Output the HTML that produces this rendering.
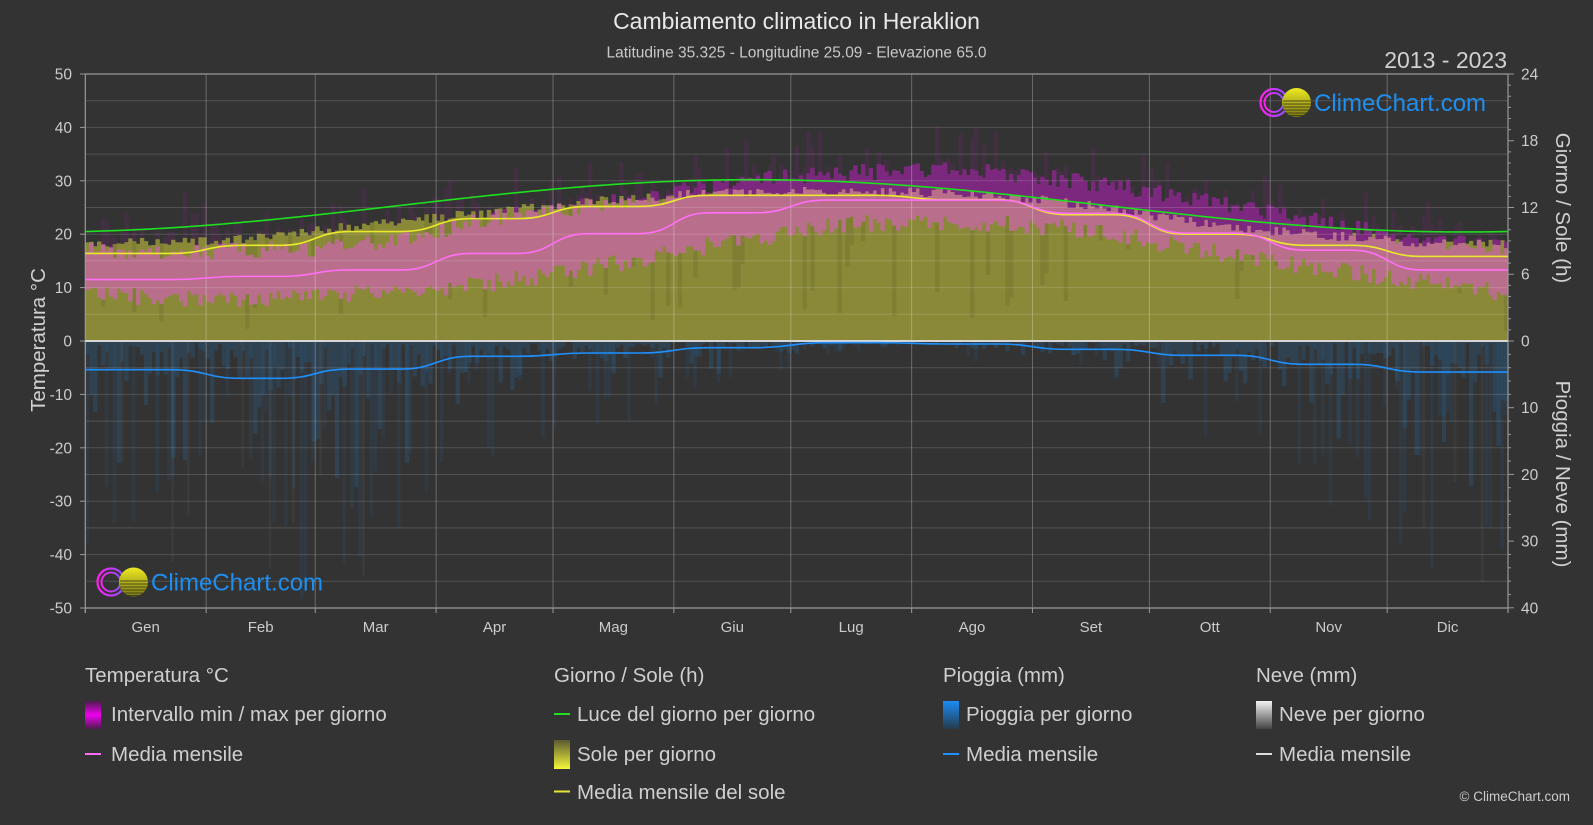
<!DOCTYPE html>
<html><head><meta charset="utf-8">
<style>
html,body{margin:0;padding:0;background:#333333;width:1593px;height:825px;overflow:hidden;}
svg{display:block;font-family:"Liberation Sans",Arial,sans-serif;}
</style></head>
<body>
<svg id="s" width="1593" height="825" viewBox="0 0 1593 825" xmlns="http://www.w3.org/2000/svg">
<defs>
  <linearGradient id="gTemp" x1="0" y1="0" x2="0" y2="1">
    <stop offset="0" stop-color="#4a1c4a"/><stop offset="0.5" stop-color="#f000f0"/><stop offset="1" stop-color="#4a1c4a"/>
  </linearGradient>
  <linearGradient id="gSun" x1="0" y1="0" x2="0" y2="1">
    <stop offset="0" stop-color="#5a5a32"/><stop offset="1" stop-color="#f6f63a"/>
  </linearGradient>
  <linearGradient id="gRain" x1="0" y1="0" x2="0" y2="1">
    <stop offset="0" stop-color="#1a8cf5"/><stop offset="1" stop-color="#263a4c"/>
  </linearGradient>
  <linearGradient id="gSnow" x1="0" y1="0" x2="0" y2="1">
    <stop offset="0" stop-color="#f2f2f2"/><stop offset="1" stop-color="#444444"/>
  </linearGradient>
  <linearGradient id="gRing" x1="0" y1="0" x2="1" y2="0">
    <stop offset="0" stop-color="#ff20f0"/><stop offset="1" stop-color="#8a50ff"/>
  </linearGradient>
  <linearGradient id="gBall" x1="0" y1="0" x2="0" y2="1">
    <stop offset="0" stop-color="#eeea22"/><stop offset="1" stop-color="#7c7a14"/>
  </linearGradient>
</defs>
<rect width="1593" height="825" fill="#333333"/>
<g id="data"></g>
<g id="grid"></g>
<g id="lines"></g>

<!-- logos -->
<g id="logo1">
  <circle cx="1274" cy="102.5" r="13.5" fill="none" stroke="url(#gRing)" stroke-width="2.2"/>
  <circle cx="1274" cy="102.5" r="9.5" fill="none" stroke="url(#gRing)" stroke-width="2"/>
  <circle cx="1296.5" cy="102.5" r="14.5" fill="url(#gBall)"/>
  <g stroke="#3a3a1a" stroke-width="1" opacity="0.85">
    <line x1="1283" y1="104" x2="1311" y2="104"/><line x1="1283" y1="107" x2="1311" y2="107"/>
    <line x1="1284" y1="110" x2="1310" y2="110"/><line x1="1285" y1="113" x2="1308" y2="113"/>
    <line x1="1287" y1="115.5" x2="1306" y2="115.5"/><line x1="1283" y1="101" x2="1311" y2="101"/>
  </g>
  <text x="1314" y="111" font-size="24" fill="#1e8ff0">ClimeChart.com</text>
</g>
<g id="logo2">
  <circle cx="111" cy="582" r="13.5" fill="none" stroke="url(#gRing)" stroke-width="2.2"/>
  <circle cx="111" cy="582" r="9.5" fill="none" stroke="url(#gRing)" stroke-width="2"/>
  <circle cx="133.5" cy="582" r="14.5" fill="url(#gBall)"/>
  <g stroke="#3a3a1a" stroke-width="1" opacity="0.85">
    <line x1="120" y1="581" x2="148" y2="581"/><line x1="120" y1="584" x2="148" y2="584"/>
    <line x1="120" y1="587" x2="148" y2="587"/><line x1="121" y1="590" x2="147" y2="590"/>
    <line x1="122" y1="593" x2="145" y2="593"/><line x1="124" y1="595.5" x2="143" y2="595.5"/>
  </g>
  <text x="151" y="590.6" font-size="24" fill="#1e8ff0">ClimeChart.com</text>
</g>

<!-- titles -->
<text x="796.5" y="29" font-size="23" fill="#e8e8e8" text-anchor="middle">Cambiamento climatico in Heraklion</text>
<text x="796.5" y="57.3" font-size="15.5" fill="#c8c8c8" text-anchor="middle">Latitudine 35.325 - Longitudine 25.09 - Elevazione 65.0</text>
<text x="1507" y="68" font-size="23" fill="#d0d0d0" text-anchor="end">2013 - 2023</text>

<!-- axis titles -->
<text transform="translate(45,340) rotate(-90)" font-size="20.5" fill="#d0d0d0" text-anchor="middle">Temperatura °C</text>
<text transform="translate(1556,208) rotate(90)" font-size="20.5" fill="#d0d0d0" text-anchor="middle">Giorno / Sole (h)</text>
<text transform="translate(1556,474) rotate(90)" font-size="20.5" fill="#d0d0d0" text-anchor="middle">Pioggia / Neve (mm)</text>

<!-- left tick labels -->
<g font-size="15.5" fill="#cccccc" text-anchor="end">
  <text x="72" y="79.5">50</text>
  <text x="72" y="132.9">40</text>
  <text x="72" y="186.3">30</text>
  <text x="72" y="239.7">20</text>
  <text x="72" y="293.1">10</text>
  <text x="72" y="346.5">0</text>
  <text x="72" y="399.9">-10</text>
  <text x="72" y="453.3">-20</text>
  <text x="72" y="506.7">-30</text>
  <text x="72" y="560.1">-40</text>
  <text x="72" y="613.5">-50</text>
</g>
<!-- right tick labels -->
<g font-size="15.5" fill="#cccccc" text-anchor="start">
  <text x="1521" y="79.5">24</text>
  <text x="1521" y="146.2">18</text>
  <text x="1521" y="213">12</text>
  <text x="1521" y="279.7">6</text>
  <text x="1521" y="346.5">0</text>
  <text x="1521" y="413.2">10</text>
  <text x="1521" y="479.9">20</text>
  <text x="1521" y="546.6">30</text>
  <text x="1521" y="613.3">40</text>
</g>
<!-- month labels -->
<g font-size="15" fill="#cccccc" text-anchor="middle">
  <text x="145.7" y="632">Gen</text>
  <text x="260.7" y="632">Feb</text>
  <text x="375.7" y="632">Mar</text>
  <text x="494.6" y="632">Apr</text>
  <text x="613.4" y="632">Mag</text>
  <text x="732.3" y="632">Giu</text>
  <text x="851.2" y="632">Lug</text>
  <text x="972" y="632">Ago</text>
  <text x="1090.9" y="632">Set</text>
  <text x="1209.8" y="632">Ott</text>
  <text x="1328.7" y="632">Nov</text>
  <text x="1447.6" y="632">Dic</text>
</g>

<!-- legend -->
<g font-size="20.5" fill="#cfcfcf">
  <text x="85" y="682">Temperatura °C</text>
  <rect x="85" y="701" width="16" height="28" fill="url(#gTemp)"/>
  <text x="111" y="721">Intervallo min / max per giorno</text>
  <line x1="85" y1="754" x2="101" y2="754" stroke="#ff6ef5" stroke-width="2"/>
  <text x="111" y="761">Media mensile</text>

  <text x="554" y="682">Giorno / Sole (h)</text>
  <line x1="554" y1="714" x2="570" y2="714" stroke="#22dd22" stroke-width="2"/>
  <text x="577" y="721">Luce del giorno per giorno</text>
  <rect x="554" y="740" width="16" height="29" fill="url(#gSun)"/>
  <text x="577" y="761">Sole per giorno</text>
  <line x1="554" y1="791.5" x2="570" y2="791.5" stroke="#e6e630" stroke-width="2"/>
  <text x="577" y="799">Media mensile del sole</text>

  <text x="943" y="682">Pioggia (mm)</text>
  <rect x="943" y="701" width="16" height="28" fill="url(#gRain)"/>
  <text x="966" y="721">Pioggia per giorno</text>
  <line x1="943" y1="754" x2="959" y2="754" stroke="#1e90ff" stroke-width="2"/>
  <text x="966" y="761">Media mensile</text>

  <text x="1256" y="682">Neve (mm)</text>
  <rect x="1256" y="701" width="16" height="28" fill="url(#gSnow)"/>
  <text x="1279" y="721">Neve per giorno</text>
  <line x1="1256" y1="754" x2="1272" y2="754" stroke="#dddddd" stroke-width="2"/>
  <text x="1279" y="761">Media mensile</text>
</g>
<text x="1570" y="801" font-size="13.5" fill="#cccccc" text-anchor="end">© ClimeChart.com</text>
</svg>

<script>
(function(){
const NS="http://www.w3.org/2000/svg";
const L=85.3,R=1508,Z=341,TOP=74,BOT=608;
const X=d=>L+d/365*(R-L);
const YT=t=>Z-t*5.34, YH=h=>Z-h*11.125, YR=m=>Z+m*6.67;
const ms=[0,31,59,90,120,151,181,212,243,273,304,334,365];
const mc=[];for(let i=0;i<12;i++)mc.push((ms[i]+ms[i+1])/2);
function interp(vals,d){
  let i=11;
  if(d<mc[0]) i=-1; else {for(let k=0;k<11;k++){if(d>=mc[k]&&d<mc[k+1]){i=k;break;}}}
  const c=k=>k<0?mc[k+12]-365:(k>11?mc[k-12]+365:mc[k]);
  const v=k=>vals[((k%12)+12)%12];
  const x0=c(i),x1=c(i+1),t=(d-x0)/(x1-x0);
  const p0=v(i-1),p1=v(i),p2=v(i+1),p3=v(i+2);
  return 0.5*((2*p1)+(-p0+p2)*t+(2*p0-5*p1+4*p2-p3)*t*t+(-p0+3*p1-3*p2+p3)*t*t*t);
}
let seed=12345;
const r=()=>{seed=(seed*1103515245+12345)&0x7fffffff;return seed/0x7fffffff;};
function el(tag,attrs,parent){const e=document.createElementNS(NS,tag);for(const k in attrs)e.setAttribute(k,attrs[k]);parent.appendChild(e);return e;}
const data=document.getElementById('data'),grid=document.getElementById('grid'),lines=document.getElementById('lines');

const sunTop=[18.4,19.4,22.0,24.2,26.5,27.8,28.0,27.4,25.3,21.8,19.8,18.3];
const tmax=[16.8,17.0,18.5,23.0,26.0,29.5,31.5,31.8,29.5,26.0,22.0,18.5];
const tmin=[8.3,8.0,9.0,11.0,14.5,18.5,21.8,22.3,20.5,16.8,13.5,10.3];
const rain=[4.3,5.6,4.2,2.3,1.8,1.0,0.25,0.45,1.25,2.15,3.5,4.65];

let olive='',pink='',mag='',spk='',dark='',rainA='',rainB='';
for(let d=0;d<365;d++){
  const dc=d+0.5,x=X(d),w=X(d+1)-X(d)+0.5;
  const st=interp(sunTop,dc)+(r()-0.5)*1.8;
  const tx=interp(tmax,dc)+(r()-0.5)*3.2;
  const tn=interp(tmin,dc)+(r()-0.5)*3.4;
  const rc=(y1,y2,ww)=>{ww=ww||w;return `M${x.toFixed(2)},${y1.toFixed(2)}h${ww.toFixed(2)}V${y2.toFixed(2)}h${(-ww).toFixed(2)}Z`;};
  olive+=rc(YT(st),Z);
  if(r()<0.2){const h=st*(0.1+0.8*r());dark+=rc(YT(st),YT(h));}
  let hi=Math.min(tx,st),lo=tn;
  if(hi>lo) pink+=rc(YT(hi),YT(lo));
  lo=Math.max(tn,st);hi=tx;
  if(hi>lo) mag+=rc(YT(hi),YT(lo));
  if(r()<0.5){const top=Math.max(tx,st)+0.5+r()*r()*9;spk+=rc(YT(top),YT(Math.max(tx,st)));}
  const m=interp(rain,dc);
  // near-top dense streaks
  const d1=m*(-Math.log(Math.max(1e-4,r())))*1.1;
  rainA+=rc(Z+1,Math.min(BOT,YR(d1)));
  // occasional deep faint streaks
  if(r()<0.16+0.04*m){const d2=m*(1.5+6*r());rainB+=rc(Z+1,Math.min(BOT,YR(d2)),w*0.8);}
}
el('path',{d:olive,fill:'#898938'},data);
el('path',{d:dark,fill:'#4a4a1c','fill-opacity':'0.14'},data);
el('path',{d:pink,fill:'#b96f8b'},data);
el('path',{d:mag,fill:'#7c287e'},data);
el('path',{d:spk,fill:'#7a2a7c','fill-opacity':'0.22'},data);
el('path',{d:rainA,fill:'#2a78b8','fill-opacity':'0.22'},data);
el('path',{d:rainB,fill:'#2a70aa','fill-opacity':'0.13'},data);
// faint snow/grey streaks
[9,22,26,40,47,53,60,71,343,351,358].forEach((d,i)=>{
  const dep=18+((i*37)%22);
  el('rect',{x:X(d),y:Z+1,width:3,height:Math.min(BOT-Z-1,dep*6.67),fill:'#9a9a9a','fill-opacity':'0.07'},data);
});

// grid
for(let t=-45;t<=45;t+=5){if(t===0)continue;
  el('line',{x1:L,x2:R,y1:YT(t),y2:YT(t),stroke:'#ffffff','stroke-opacity':'0.15','stroke-width':'1'},grid);}
for(let i=1;i<12;i++){const x=X(ms[i]);
  el('line',{x1:x,x2:x,y1:TOP,y2:BOT,stroke:'#ffffff','stroke-opacity':'0.27','stroke-width':'1'},grid);}
el('line',{x1:L,x2:R,y1:TOP,y2:TOP,stroke:'#9a9a9a','stroke-width':'1.2'},grid);
el('line',{x1:L,x2:R,y1:BOT,y2:BOT,stroke:'#9a9a9a','stroke-width':'1.2'},grid);
el('line',{x1:L,x2:L,y1:TOP,y2:BOT+5,stroke:'#9a9a9a','stroke-width':'1.2'},grid);
el('line',{x1:R,x2:R,y1:TOP,y2:BOT+5,stroke:'#9a9a9a','stroke-width':'1.2'},grid);
for(let t=-50;t<=50;t+=10) el('line',{x1:80,x2:L,y1:YT(t),y2:YT(t),stroke:'#9a9a9a','stroke-width':'1'},grid);
for(let h=0;h<=24;h++){const big=h%6===0;
  el('line',{x1:R,x2:R+(big?6:3),y1:YH(h),y2:YH(h),stroke:'#9a9a9a','stroke-width':'1'},grid);}
for(let m=2;m<=40;m+=2){const big=m%10===0;
  el('line',{x1:R,x2:R+(big?6:3),y1:YR(m),y2:YR(m),stroke:'#9a9a9a','stroke-width':'1'},grid);}
for(let i=0;i<=12;i++){const x=X(ms[i]);el('line',{x1:x,x2:x,y1:BOT,y2:BOT+5,stroke:'#9a9a9a','stroke-width':'1'},grid);}

// lines
function stepPath(vals,yf,w){
  let p=`M${X(0)},${yf(vals[0])}`;
  for(let i=0;i<11;i++){const b=ms[i+1];
    p+=` L${X(b-w)},${yf(vals[i])} C${X(b)},${yf(vals[i])} ${X(b)},${yf(vals[i+1])} ${X(b+w)},${yf(vals[i+1])}`;}
  p+=` L${X(365)},${yf(vals[11])}`;return p;}
const sun=[7.87,8.6,9.84,11.0,12.1,13.1,13.1,12.7,11.35,9.6,8.6,7.6];
const tmean=[11.5,12.1,13.3,16.4,20.1,24.0,26.4,26.4,23.9,20.2,17.0,13.3];
let dp='';
for(let d=0;d<=365;d+=1){const h=12.15+2.35*Math.sin(2*Math.PI*(d-80)/365);dp+=(d?' L':'M')+X(d).toFixed(2)+','+YH(h).toFixed(2);}
el('line',{x1:L,x2:R,y1:Z,y2:Z,stroke:'#d6d6d6','stroke-width':'2'},lines);
el('path',{d:dp,fill:'none',stroke:'#1ee01e','stroke-width':'1.6'},lines);
el('path',{d:stepPath(sun,YH,9),fill:'none',stroke:'#eaea2c','stroke-width':'1.6'},lines);
el('path',{d:stepPath(tmean,YT,9),fill:'none',stroke:'#ff6ef5','stroke-width':'1.6'},lines);
el('path',{d:stepPath(rain,YR,9),fill:'none',stroke:'#1e90ff','stroke-width':'1.6'},lines);
})();
</script>
</body></html>
